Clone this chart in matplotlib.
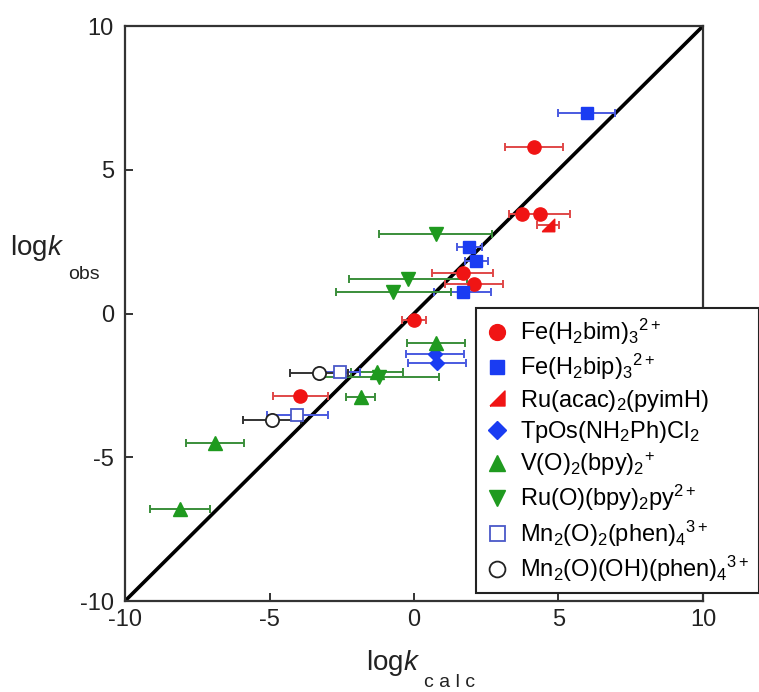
import matplotlib
matplotlib.use("Agg")
import matplotlib.pyplot as plt
from matplotlib.lines import Line2D

plt.rcParams['font.family'] = ['Liberation Sans', 'DejaVu Sans']
plt.rcParams['mathtext.fontset'] = 'custom'
plt.rcParams['mathtext.rm'] = 'Liberation Sans'
plt.rcParams['mathtext.it'] = 'Liberation Sans:italic'
plt.rcParams['mathtext.bf'] = 'Liberation Sans:bold'
plt.rcParams['axes.unicode_minus'] = False

# ---- data: (log k_calc, log k_obs, x error) per complex ----
fe_bim_x = [4.15, 3.75, 4.35, 1.68, 2.08, 0.0, -3.93]
fe_bim_y = [5.8, 3.47, 3.47, 1.42, 1.03, -0.23, -2.87]
fe_bim_err = [1.0, 0.0, 1.05, 1.05, 1.0, 0.4, 0.95]

fe_bip_x = [5.97, 1.92, 2.15, 1.68]
fe_bip_y = [6.97, 2.33, 1.81, 0.76]
fe_bip_err = [1.0, 0.43, 0.4, 1.0]

ru_acac_x = [4.64]
ru_acac_y = [3.08]
ru_acac_err = [0.37]

tpos_x = [0.74, 0.8]
tpos_y = [-1.42, -1.72]
tpos_err = [1.0, 1.0]

vo2_x = [0.75, -1.28, -1.84, -6.88, -8.09]
vo2_y = [-1.04, -2.03, -2.9, -4.5, -6.79]
vo2_err = [1.0, 0.9, 0.5, 1.0, 1.04]

ruo_x = [0.75, -0.2, -0.71, -1.2]
ruo_y = [2.77, 1.2, 0.74, -2.22]
ruo_err = [1.95, 2.05, 2.0, 2.05]

mn_o2_x = [-2.56, -4.04]
mn_o2_y = [-2.03, -3.54]
mn_o2_err = [0.7, 1.05]

mn_ooh_x = [-3.29, -4.9]
mn_ooh_y = [-2.06, -3.71]
mn_ooh_err = [1.0, 1.0]

labels = [
    r'Fe(H$_2$bim)$_3$$^{2+}$',
    r'Fe(H$_2$bip)$_3$$^{2+}$',
    r'Ru(acac)$_2$(pyimH)',
    r'TpOs(NH$_2$Ph)Cl$_2$',
    r'V(O)$_2$(bpy)$_2$$^{+}$',
    r'Ru(O)(bpy)$_2$py$^{2+}$',
    r'Mn$_2$(O)$_2$(phen)$_4$$^{3+}$',
    r'Mn$_2$(O)(OH)(phen)$_4$$^{3+}$',
]

parity = [-10, 10]
x_ticks = [-10, -5, 0, 5, 10]
y_ticks = [-10, -5, 0, 5, 10]

red = '#f01414'
blue = '#1a3cf2'
green = '#1f9a1f'
right_tri = [(-1, -1), (1, -1), (1, 1), (-1, -1)]

series = [
    (fe_bim_x, fe_bim_y, fe_bim_err, dict(marker='o', mfc=red, mec=red, ms=9.5), '#e04848'),
    (fe_bip_x, fe_bip_y, fe_bip_err, dict(marker='s', mfc=blue, mec=blue, ms=8.5), '#4a5ae0'),
    (ru_acac_x, ru_acac_y, ru_acac_err, dict(marker=right_tri, mfc=red, mec=red, ms=9), '#e04848'),
    (tpos_x, tpos_y, tpos_err, dict(marker='D', mfc=blue, mec=blue, ms=7.5), '#4a5ae0'),
    (vo2_x, vo2_y, vo2_err, dict(marker='^', mfc=green, mec=green, ms=10), '#3a8e3a'),
    (ruo_x, ruo_y, ruo_err, dict(marker='v', mfc=green, mec=green, ms=10), '#3a8e3a'),
    (mn_o2_x, mn_o2_y, mn_o2_err, dict(marker='s', mfc='white', mec='#4a58c8', ms=9, mew=1.3), '#4a5ae0'),
    (mn_ooh_x, mn_ooh_y, mn_ooh_err, dict(marker='o', mfc='white', mec='#222222', ms=9.5, mew=1.3), '#333333'),
]

fig = plt.figure(figsize=(7.59, 6.92), dpi=100)
ax = fig.add_axes([0.1647, 0.1315, 0.7615, 0.8309])

ax.plot(parity, parity, color='black', lw=2.6, zorder=2, solid_capstyle='butt')

handles = []
for (xs, ys, errs, mstyle, ecol), lab in zip(series, labels):
    ax.errorbar(xs, ys, xerr=errs, fmt='none', ecolor=ecol, elinewidth=1.4,
                capsize=3, capthick=1.4, zorder=3)
    ax.plot(xs, ys, linestyle='none', zorder=4, **mstyle)
    handles.append(Line2D([], [], linestyle='none', label=lab, **mstyle))

ax.set_xlim(-10, 10)
ax.set_ylim(-10, 10)
ax.set_xticks(x_ticks)
ax.set_yticks(y_ticks)
ax.set_xticklabels([str(t) for t in x_ticks])
ax.set_yticklabels([str(t) for t in y_ticks])
ax.tick_params(direction='in', length=6, width=1.4, labelsize=17,
               top=False, right=False, colors='#333333', labelcolor='#222222')
ax.tick_params(axis='x', pad=6)
ax.tick_params(axis='y', pad=8)
for s in ax.spines.values():
    s.set_linewidth(1.6)
    s.set_color('#333333')

leg = ax.legend(handles=handles, loc='lower left',
                bbox_to_anchor=(0.627, 0.143), bbox_transform=fig.transFigure,
                borderaxespad=0, fontsize=17, frameon=True, fancybox=False,
                edgecolor='#222222', framealpha=1, handlelength=1.0,
                handletextpad=0.5, labelspacing=0.22, borderpad=0.38,
                markerscale=1.2)
leg.get_frame().set_linewidth(1.5)
leg.set_zorder(5)

# axis titles
fig.text(10 / 759, 1 - 255 / 692, r'log$\mathit{k}$', fontsize=20, color='#222222')
fig.text(68 / 759, 1 - 279 / 692, 'obs', fontsize=14, color='#222222')
fig.text(366 / 759, 1 - 670 / 692, r'log$\mathit{k}$', fontsize=20, color='#222222')
fig.text(424 / 759, 1 - 687 / 692, 'c a l c', fontsize=14, color='#222222')

fig.savefig('out.png', dpi=100)
